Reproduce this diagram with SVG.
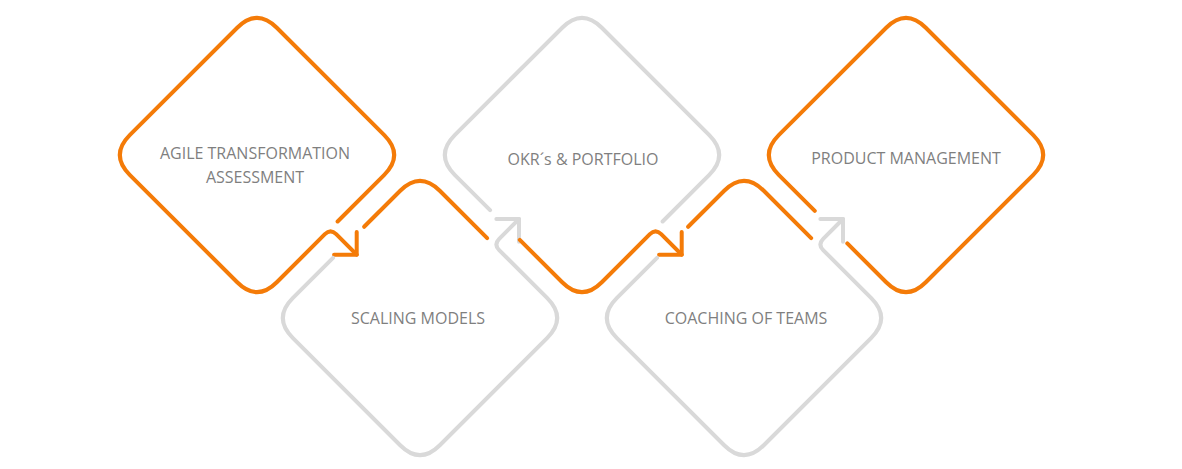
<svg xmlns="http://www.w3.org/2000/svg" width="1182" height="469" viewBox="0 0 1182 469">
<style>
.o{fill:none;stroke:#F47B08;stroke-width:4;stroke-linecap:round;stroke-linejoin:round}
.g{fill:none;stroke:#D9D9D9;stroke-width:4;stroke-linecap:round;stroke-linejoin:round}
text{font-family:"Open Sans","Liberation Sans",sans-serif;font-size:16px;fill:#7F7F7F;text-anchor:middle}
</style>
<rect width="1182" height="469" fill="#fff"/>
<g id="n1">
<g transform="translate(257,155) rotate(45)">
<path class="o" d="M104,-10 L104,-76 Q104,-104 76,-104 L-76,-104 Q-104,-104 -104,-76 L-104,76 Q-104,104 -76,104 L76,104 Q104,104 104,76 L104,8 Q104,0 112,0 L141,0"/>
<path class="o" d="M125,-16 L141,0 L125,16"/>
</g>
<text x="255" y="159">AGILE TRANSFORMATION</text>
<text x="255" y="183">ASSESSMENT</text>
</g>
<g id="n2">
<g transform="translate(420,318) rotate(45)">
<path class="g" d="M0,-140 L0,-112 Q0,-104 8,-104 L76,-104 Q104,-104 104,-76 L104,76 Q104,104 76,104 L-76,104 Q-104,104 -104,76 L-104,19"/>
<path class="g" d="M-16,-124 L0,-140 L16,-124"/>
<path class="o" d="M-104,-25 L-104,-76 Q-104,-104 -76,-104 L-9,-104"/>
</g>
<text x="418" y="324">SCALING MODELS</text>
</g>
<g id="n3">
<g transform="translate(582,155) rotate(45)">
<path class="g" d="M104,-10 L104,-76 Q104,-104 76,-104 L-76,-104 Q-104,-104 -104,-76 L-104,76 Q-104,104 -76,104 L-26,104"/>
<path class="o" d="M16,104 L76,104 Q104,104 104,76 L104,8 Q104,0 112,0 L141,0"/>
<path class="o" d="M125,-16 L141,0 L125,16"/>
</g>
<text x="583" y="165">OKR´s &amp; PORTFOLIO</text>
</g>
<g id="n4">
<g transform="translate(744,318) rotate(45)">
<path class="g" d="M0,-140 L0,-112 Q0,-104 8,-104 L76,-104 Q104,-104 104,-76 L104,76 Q104,104 76,104 L-76,104 Q-104,104 -104,76 L-104,19"/>
<path class="g" d="M-16,-124 L0,-140 L16,-124"/>
<path class="o" d="M-104,-25 L-104,-76 Q-104,-104 -76,-104 L-9,-104"/>
</g>
<text x="746" y="324">COACHING OF TEAMS</text>
</g>
<g id="n5">
<g transform="translate(906,155) rotate(45)">
<path class="o" d="M21,104 L76,104 Q104,104 104,76 L104,-76 Q104,-104 76,-104 L-76,-104 Q-104,-104 -104,-76 L-104,76 Q-104,104 -76,104 L-25,104"/>
</g>
<text x="906" y="164">PRODUCT MANAGEMENT</text>
</g>
<g id="connectors"></g>
</svg>
